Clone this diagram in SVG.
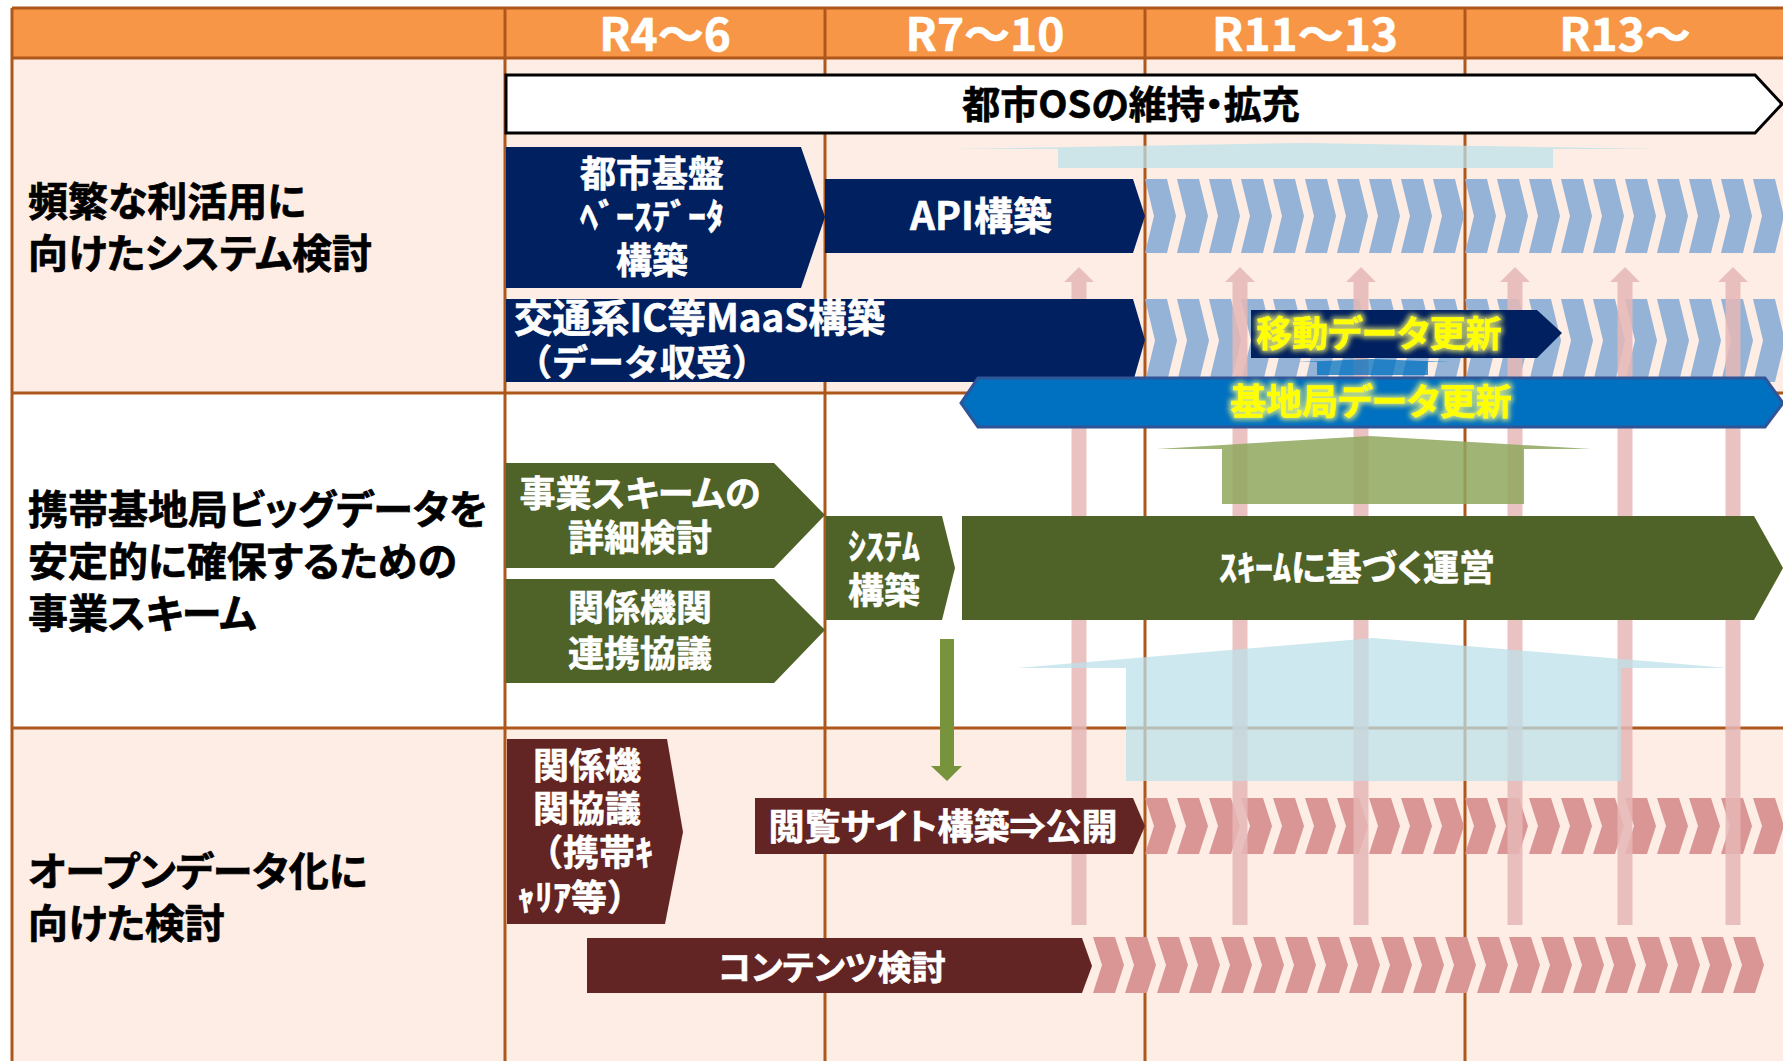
<svg xmlns="http://www.w3.org/2000/svg" width="1783" height="1061" viewBox="0 0 1783 1061">
<style>
text{font-family:"Noto Sans CJK JP","Noto Sans",sans-serif;font-weight:700;font-feature-settings:"palt"}
.hd{font-size:46px;fill:#fff;text-anchor:middle;stroke:#fff;stroke-width:0.6}
.lbl{font-size:40px;fill:#000;stroke:#000;stroke-width:0.7}
.w{font-size:36px;fill:#fff;text-anchor:middle;stroke:#fff;stroke-width:0.6}
.wl{font-size:36px;fill:#fff;stroke:#fff;stroke-width:0.6}
.y{font-size:36px;fill:#ff0;text-anchor:middle;stroke:#ff0;stroke-width:0.5}
.grid{stroke:#AE571B;stroke-width:3;fill:none}
.navy{fill:#002060}
.green{fill:#4F6228}
.red{fill:#632523}
.cb{fill:#95B3D7}
.cp{fill:#DA9694}
.pk{fill:#E6B8B7;opacity:.85}
.lb{fill:#BCE0E8;opacity:.75}
.lg{fill:#8FA75E;opacity:.85}
</style>
<defs>
<path id="cb1" d="M0,0H22L31,37L22,74H0L9,37Z"/>
<path id="cb2" d="M0,0H22L32,41.5L22,83H0L10,41.5Z"/>
<path id="cp1" d="M0,0H22L31,28L22,56H0L9,28Z"/>
<filter id="glow" x="-15%" y="-40%" width="130%" height="180%">
<feMorphology in="SourceAlpha" operator="dilate" radius="1.5" result="d"/>
<feGaussianBlur in="d" stdDeviation="2.5" result="b"/>
<feFlood flood-color="#FFFF70" flood-opacity="0.75"/>
<feComposite in2="b" operator="in" result="g"/>
<feMerge><feMergeNode in="g"/><feMergeNode in="SourceGraphic"/></feMerge>
</filter>
</defs>

<g id="table">
<rect x="0" y="0" width="1783" height="1061" fill="#fff"/>
<rect x="12" y="8" width="1771" height="50" fill="#F79646"/>
<rect x="12" y="58" width="1771" height="335" fill="#FDEDE5"/>
<rect x="12" y="393" width="1771" height="335" fill="#fff"/>
<rect x="12" y="728" width="1771" height="333" fill="#FDEDE5"/>
<path class="grid" d="M12,8H1783M12,58H1783M12,393H1783M12,728H1783M12,8V1061M505,8V1061M825,8V1061M1145,8V1061M1465,8V1061"/>
<text class="hd" x="665" y="51">R4～6</text>
<text class="hd" x="985" y="51">R7～10</text>
<text class="hd" x="1305" y="51">R11～13</text>
<text class="hd" x="1625" y="51">R13～</text>
<text class="lbl"><tspan x="28" y="216">頻繁な利活用に</tspan><tspan x="28" y="268">向けたシステム検討</tspan></text>
<text class="lbl"><tspan x="28" y="524">携帯基地局ビッグデータを</tspan><tspan x="28" y="576">安定的に確保するための</tspan><tspan x="28" y="628">事業スキーム</tspan></text>
<text class="lbl"><tspan x="28" y="886">オープンデータ化に</tspan><tspan x="28" y="938">向けた検討</tspan></text>
</g>

<g id="chevrons">
<g class="cb">
<use href="#cb1" x="1145" y="179"/><use href="#cb1" x="1177" y="179"/><use href="#cb1" x="1209" y="179"/><use href="#cb1" x="1241" y="179"/><use href="#cb1" x="1273" y="179"/><use href="#cb1" x="1305" y="179"/><use href="#cb1" x="1337" y="179"/><use href="#cb1" x="1369" y="179"/><use href="#cb1" x="1401" y="179"/><use href="#cb1" x="1433" y="179"/><use href="#cb1" x="1465" y="179"/><use href="#cb1" x="1497" y="179"/><use href="#cb1" x="1529" y="179"/><use href="#cb1" x="1561" y="179"/><use href="#cb1" x="1593" y="179"/><use href="#cb1" x="1625" y="179"/><use href="#cb1" x="1657" y="179"/><use href="#cb1" x="1689" y="179"/><use href="#cb1" x="1721" y="179"/><use href="#cb1" x="1753" y="179"/>
<use href="#cb2" x="1145" y="299"/><use href="#cb2" x="1177" y="299"/><use href="#cb2" x="1209" y="299"/><use href="#cb2" x="1241" y="299"/><use href="#cb2" x="1273" y="299"/><use href="#cb2" x="1305" y="299"/><use href="#cb2" x="1337" y="299"/><use href="#cb2" x="1369" y="299"/><use href="#cb2" x="1401" y="299"/><use href="#cb2" x="1433" y="299"/><use href="#cb2" x="1465" y="299"/><use href="#cb2" x="1497" y="299"/><use href="#cb2" x="1529" y="299"/><use href="#cb2" x="1561" y="299"/><use href="#cb2" x="1593" y="299"/><use href="#cb2" x="1625" y="299"/><use href="#cb2" x="1657" y="299"/><use href="#cb2" x="1689" y="299"/><use href="#cb2" x="1721" y="299"/><use href="#cb2" x="1753" y="299"/>
</g>
<g class="cp">
<use href="#cp1" x="1145" y="798"/><use href="#cp1" x="1177" y="798"/><use href="#cp1" x="1209" y="798"/><use href="#cp1" x="1241" y="798"/><use href="#cp1" x="1273" y="798"/><use href="#cp1" x="1305" y="798"/><use href="#cp1" x="1337" y="798"/><use href="#cp1" x="1369" y="798"/><use href="#cp1" x="1401" y="798"/><use href="#cp1" x="1433" y="798"/><use href="#cp1" x="1465" y="798"/><use href="#cp1" x="1497" y="798"/><use href="#cp1" x="1529" y="798"/><use href="#cp1" x="1561" y="798"/><use href="#cp1" x="1593" y="798"/><use href="#cp1" x="1625" y="798"/><use href="#cp1" x="1657" y="798"/><use href="#cp1" x="1689" y="798"/><use href="#cp1" x="1721" y="798"/><use href="#cp1" x="1753" y="798"/>
<use href="#cp1" x="1093" y="937"/><use href="#cp1" x="1125" y="937"/><use href="#cp1" x="1157" y="937"/><use href="#cp1" x="1189" y="937"/><use href="#cp1" x="1221" y="937"/><use href="#cp1" x="1253" y="937"/><use href="#cp1" x="1285" y="937"/><use href="#cp1" x="1317" y="937"/><use href="#cp1" x="1349" y="937"/><use href="#cp1" x="1381" y="937"/><use href="#cp1" x="1413" y="937"/><use href="#cp1" x="1445" y="937"/><use href="#cp1" x="1477" y="937"/><use href="#cp1" x="1509" y="937"/><use href="#cp1" x="1541" y="937"/><use href="#cp1" x="1573" y="937"/><use href="#cp1" x="1605" y="937"/><use href="#cp1" x="1637" y="937"/><use href="#cp1" x="1669" y="937"/><use href="#cp1" x="1701" y="937"/><use href="#cp1" x="1733" y="937"/>
</g>
</g>

<g id="connectors">
<g class="pk">
<path d="M1079,267L1094,282H1086.5V925H1071.5V282H1064Z"/>
<path d="M1240,267L1255,282H1247.5V925H1232.5V282H1225Z"/>
<path d="M1361,267L1376,282H1368.5V925H1353.5V282H1346Z"/>
<path d="M1515,267L1530,282H1522.5V925H1507.5V282H1500Z"/>
<path d="M1625,267L1640,282H1632.5V925H1617.5V282H1610Z"/>
<path d="M1733,267L1748,282H1740.5V925H1725.5V282H1718Z"/>
</g>
<path id="down-arrow" d="M940,639H954V766H962L947,781L931,766H940Z" fill="#77933C"/>
</g>

<g id="node-os">
<path d="M506,75H1755L1782,104L1755,133H506Z" fill="#fff" stroke="#000" stroke-width="3"/>
<text x="1131" y="118" font-size="38" fill="#000" stroke="#000" stroke-width="0.6" text-anchor="middle">都市OSの維持・拡充</text>
</g>
<g id="node-base">
<path class="navy" d="M506,147H801L825,217L801,288H506Z"/>
<text class="w"><tspan x="652" y="187">都市基盤</tspan><tspan x="652" y="230">ﾍﾞｰｽﾃﾞｰﾀ</tspan><tspan x="652" y="274">構築</tspan></text>
</g>
<g id="node-api">
<path class="navy" d="M825,179H1133L1145,216L1133,253H825Z"/>
<text class="w" x="981" y="230" style="font-size:39px">API構築</text>
</g>
<g id="node-maas">
<path class="navy" d="M506,299H1133L1145,340L1133,382H506Z"/>
<text class="wl" style="font-size:38.5px"><tspan x="514" y="332">交通系IC等MaaS構築</tspan><tspan x="516" y="376" style="font-feature-settings:normal;font-size:36px">（データ収受）</tspan></text>
</g>
<g id="node-move">
<path class="navy" d="M1251,310H1537L1562,333L1537,358H1251Z"/>
<text class="y" x="1379" y="347" filter="url(#glow)">移動データ更新</text>
</g>
<g id="node-station">
<path d="M961,403L978,378H1765L1783,403L1765,427H978Z" fill="#0070C0" stroke="#2F5597" stroke-width="3"/>
<text class="y" x="1371" y="415" filter="url(#glow)">基地局データ更新</text>
</g>
<g id="node-scheme">
<path class="green" d="M506,463H774L825,515L774,568H506Z"/>
<text class="w"><tspan x="640" y="507">事業スキームの</tspan><tspan x="640" y="551">詳細検討</tspan></text>
</g>
<g id="node-kankei">
<path class="green" d="M506,579H774L825,630L774,683H506Z"/>
<text class="w"><tspan x="640" y="621">関係機関</tspan><tspan x="640" y="667">連携協議</tspan></text>
</g>
<g id="node-system">
<path class="green" d="M826,516H942L955,568L942,620H826Z"/>
<text class="w"><tspan x="884" y="560">ｼｽﾃﾑ</tspan><tspan x="884" y="604">構築</tspan></text>
</g>
<g id="node-operate">
<path class="green" d="M962,516H1754L1783,568L1754,620H962Z"/>
<text class="w" x="1357" y="581">ｽｷｰﾑに基づく運営</text>
</g>
<g id="node-kyogi">
<path class="red" d="M507,739H667L683,832L665,924H507Z"/>
<text class="w"><tspan x="587" y="779">関係機</tspan><tspan x="587" y="822">関協議</tspan><tspan x="590" y="866" style="font-feature-settings:normal">（携帯ｷ</tspan><tspan x="580" y="911" style="font-feature-settings:normal">ｬﾘｱ等）</tspan></text>
</g>
<g id="node-site">
<path class="red" d="M755,798H1133L1145,826L1133,854H755Z"/>
<text class="w" x="943" y="840">閲覧サイト構築⇒公開</text>
</g>
<g id="node-contents">
<path class="red" d="M587,938H1082L1092,966L1082,993H587Z"/>
<text class="w" x="832" y="980" style="font-size:34px">コンテンツ検討</text>
</g>

<g id="overlays">
<path class="lb" d="M955,149L1305,143L1657,149H1553V168H1058V149Z"/>
<path d="M1297,362L1372,359L1450,362H1428V375H1317V362Z" fill="#0070C0" opacity="0.75"/>
<path class="lg" d="M1157,449L1370,436L1591,449H1524V504H1222V449Z"/>
<path class="lb" d="M1017,668L1373,638L1728,668H1621V781H1126V668Z"/>
</g>
</svg>
